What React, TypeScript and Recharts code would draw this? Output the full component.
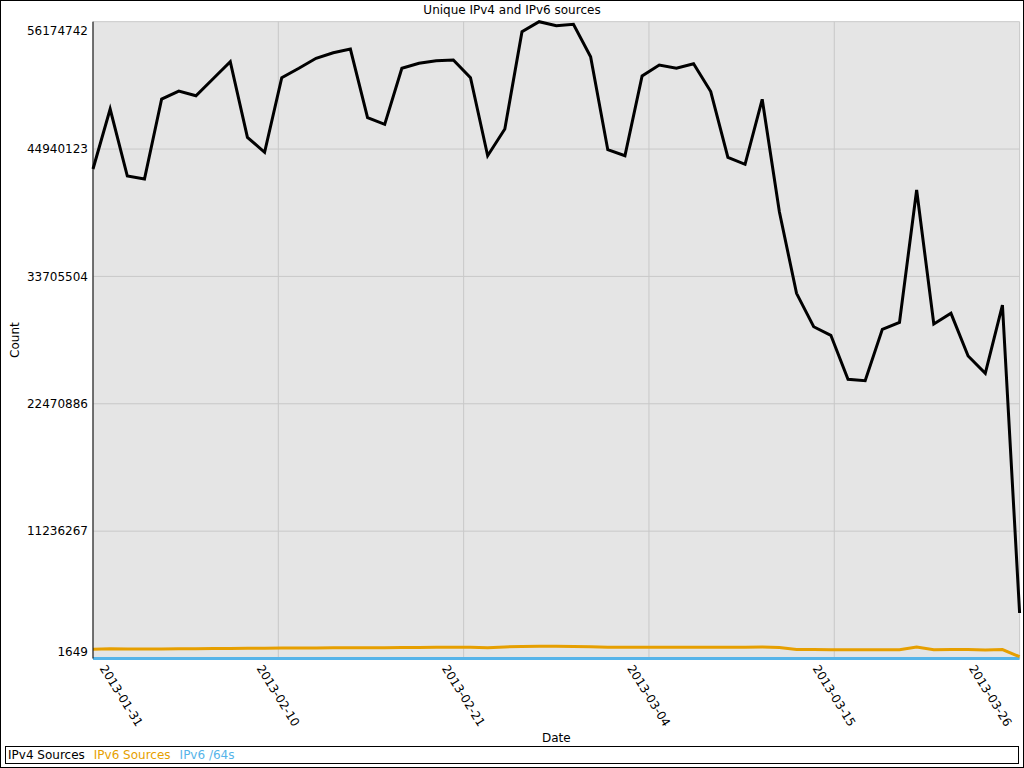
import React from 'react';
import { LineChart, Line, XAxis, YAxis, CartesianGrid, Label } from 'recharts';

// Day offsets from 2013-01-31 (index = day)
const ipv4Sources = [
  43179530, 48472219, 42562049, 42297415, 49354334, 50060026, 49645432, 51145027, 52644623, 45975834,
  44652662, 51233239, 52062427, 52944542, 53438526, 53764909, 47704779, 47122583, 52062427, 52503885,
  52732835, 52794583, 51233239, 44352743, 46707989, 55290968, 56174742, 55820237, 55943733, 53085681,
  44882012, 44352743, 51383196, 52353528, 52062427, 52468201, 50015920, 44211605, 43594124, 49327871,
  39412520, 32214489, 29268225, 28509606, 24628299, 24504803, 29038876, 29656357, 41326737, 29506398,
  30450209, 26683628, 25157568, 31182766, 4013625,
];

const ipv6Sources = [
  811240, 864310, 838120, 838560, 847330, 856210, 856940, 882150, 891420, 900130,
  909540, 926310, 926870, 935420, 944180, 953260, 944710, 953880, 970150, 980320,
  990410, 990870, 988230, 960540, 1020310, 1059420, 1076180, 1076520, 1060330, 1040270,
  1000180, 990260, 1000540, 995310, 990720, 1000130, 990480, 988310, 990150, 1020640,
  980210, 800310, 790420, 776180, 770250, 765340, 770120, 780410, 1014230, 776350,
  790120, 785260, 760310, 794180, 159240,
];

const ipv6Slash64s = [
  2310, 2452, 2398, 2376, 2511, 2534, 2489, 2560, 2602, 2471,
  2433, 2588, 2610, 2645, 2672, 2690, 2540, 2523, 2655, 2668,
  2684, 2691, 2650, 2470, 2530, 2748, 2772, 2765, 2770, 2701,
  2480, 2466, 2643, 2668, 2660, 2671, 2602, 2455, 2440, 2598,
  2351, 2180, 2110, 2093, 2002, 1998, 2104, 2120, 2420, 2115,
  2140, 2050, 2016, 2160, 1649,
];

const seriesNames = ['IPv4 Sources', 'IPv6 Sources', 'IPv6 /64s'];
const seriesKeys = ['ipv4', 'ipv6', 'ipv6_64'];
const seriesColors = ['#000000', '#e69f00', '#56b4e9'];

const xTicks = [0, 10.8, 21.6, 32.4, 43.2, 54];
const xTickLabels = ['2013-01-31', '2013-02-10', '2013-02-21', '2013-03-04', '2013-03-15', '2013-03-26'];
const yTicks = [1649, 11236267, 22470886, 33705504, 44940123, 56174742];

const data = ipv4Sources.map((v, i) => ({
  day: i,
  ipv4: v,
  ipv6: ipv6Sources[i],
  ipv6_64: ipv6Slash64s[i],
}));

const FONT = '"DejaVu Sans", sans-serif';
const PLOT_LEFT = 93;
const PLOT_RIGHT = 1019.6;

const XTick = (props: any) => {
  const { x, y, payload } = props;
  const idx = xTicks.indexOf(payload.value);
  const label = idx >= 0 ? xTickLabels[idx] : '';
  const cx = Math.min(Math.max(x, PLOT_LEFT + 28.5), PLOT_RIGHT - 29);
  const cy = y + 37;
  return (
    <g transform={`translate(${cx},${cy}) rotate(58)`}>
      <text x={0} y={0} textAnchor="middle" dy="0.36em" fontSize={12} fontFamily={FONT} fill="#000">
        {label}
      </text>
    </g>
  );
};

const YTick = (props: any) => {
  const { x, y, payload } = props;
  let dy = 0;
  if (payload.value === yTicks[0]) dy = -7;
  if (payload.value === yTicks[yTicks.length - 1]) dy = 9;
  return (
    <text x={x} y={y + dy} textAnchor="end" dy="0.36em" fontSize={12} fontFamily={FONT} fill="#000">
      {payload.value}
    </text>
  );
};

export default function App() {
  return (
    <div style={{ position: 'absolute', left: 0, top: 0, width: 1024, height: 768, background: '#fff', fontFamily: FONT }}>
      <LineChart
        width={1024}
        height={768}
        data={data}
        margin={{ top: 21.7, right: 4.4, left: 0, bottom: 0 }}
      >
        <CartesianGrid fill="#e5e5e5" stroke="#c8c8c8" strokeWidth={1} />
        <XAxis
          dataKey="day"
          type="number"
          domain={[0, 54]}
          ticks={xTicks}
          interval={0}
          height={109.5}
          tickLine={false}
          tickSize={0}
          tickMargin={0}
          axisLine={false}
          tick={<XTick />}
        >
          <Label
            content={(p: any) => {
              const vb = p.viewBox;
              return (
                <text x={vb.x + vb.width / 2} y={741.5} textAnchor="middle" fontSize={12} fontFamily={FONT} fill="#000">
                  Date
                </text>
              );
            }}
          />
        </XAxis>
        <YAxis
          type="number"
          domain={[yTicks[0], yTicks[yTicks.length - 1]]}
          ticks={yTicks}
          interval={0}
          width={93}
          tickLine={false}
          tickSize={0}
          tickMargin={5}
          axisLine={{ stroke: '#000' }}
          tick={<YTick />}
        >
          <Label
            content={(p: any) => {
              const vb = p.viewBox;
              const cy = vb.y + vb.height / 2;
              return (
                <text
                  x={15}
                  y={cy}
                  transform={`rotate(-90, 15, ${cy})`}
                  textAnchor="middle"
                  dy="0.36em"
                  fontSize={12}
                  fontFamily={FONT}
                  fill="#000"
                >
                  Count
                </text>
              );
            }}
          />
        </YAxis>
        {[2, 1, 0].map((k) => (
          <Line
            key={seriesKeys[k]}
            type="linear"
            dataKey={seriesKeys[k]}
            name={seriesNames[k]}
            stroke={seriesColors[k]}
            strokeWidth={3}
            dot={false}
            activeDot={false}
            isAnimationActive={false}
          />
        ))}
      </LineChart>
      <div
        style={{
          position: 'absolute',
          left: 0,
          top: 3,
          width: 1024,
          textAlign: 'center',
          fontSize: 12,
          lineHeight: '14px',
          color: '#000',
        }}
      >
        Unique IPv4 and IPv6 sources
      </div>
      <div
        style={{
          position: 'absolute',
          left: 5,
          top: 746,
          width: 1014,
          height: 18,
          boxSizing: 'border-box',
          border: '1px solid #000',
          paddingLeft: 2,
          fontSize: 12,
          lineHeight: '16px',
          whiteSpace: 'nowrap',
        }}
      >
        {seriesNames.map((n, i) => (
          <span key={n} style={{ color: seriesColors[i], marginRight: 9 }}>
            {n}
          </span>
        ))}
      </div>
      <div
        style={{
          position: 'absolute',
          left: 0,
          top: 0,
          width: 1024,
          height: 768,
          boxSizing: 'border-box',
          border: '1px solid #000',
          pointerEvents: 'none',
        }}
      />
    </div>
  );
}
